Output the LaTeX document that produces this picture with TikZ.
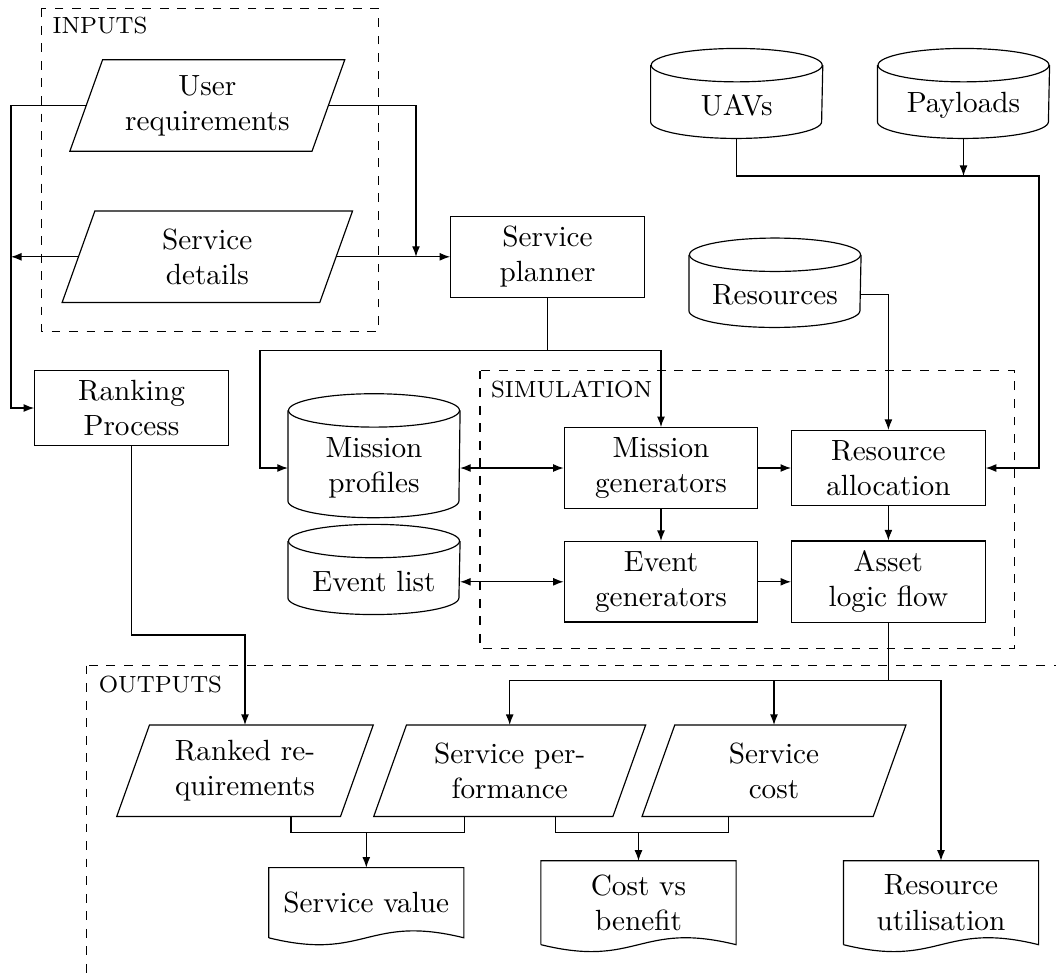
\documentclass[tikz,border=0pt]{standalone}
\usetikzlibrary{arrows.meta,calc}

% cylinder outline around a database node: #1 node name, #2 total height
\newcommand{\dbdraw}[2]{%
  \draw ($(#1.south)+(0,#2-16.7)$) ellipse [x radius=29.24pt, y radius=5.71pt];
  \draw ($(#1.south west)+(0,#2-16.7)$) -- ($(#1.south west)+(0,16.7)$)
    arc [start angle=180, end angle=360, x radius=29.24pt, y radius=5.71pt]
    -- ($(#1.south east)+(0,#2-16.7)$);
}
% document outline with a wavy lower edge
\newcommand{\docdraw}[1]{%
  \draw (#1.south west) -- (#1.north west) -- (#1.north east) -- (#1.south east)
    .. controls +(-97,24) and +(97,-24) .. (#1.south west);
}

\begin{document}
\begin{tikzpicture}[x=0.342pt, y=0.342pt,
  box/.style={draw, text width=59.5pt, align=center, inner sep=3.333pt},
  para/.style={align=center, inner sep=1pt, minimum height=30.9pt},
  db/.style={align=center, inner sep=1pt, minimum width=58.48pt},
  doc/.style={align=center, inner sep=1pt, minimum width=66.35pt},
  frame/.style={draw, dashed},
  flabel/.style={font=\footnotesize, anchor=base west, inner sep=0pt},
  arr/.style={-{Latex[length=3.6pt,width=2.7pt]}},
  dbl/.style={{Latex[length=3.6pt,width=2.7pt]}-{Latex[length=3.6pt,width=2.7pt]}},
]
\useasboundingbox (0,0) rectangle (1056,-973);
\clip (0,0) rectangle (1056,-973);

% group frames
\draw[frame] (41.7,-8.3) rectangle (378.3,-331.7);
\node[flabel] (linputs) at (52,-33.3) {INPUTS};
\draw[frame] (480,-370.7) rectangle (1014.5,-648.3);
\node[flabel] (lsim) at (490.5,-397) {SIMULATION};
\draw[frame] (86.7,-665.7) rectangle (1090,-1010);
\node[flabel] (loutputs) at (98.3,-692.7) {OUTPUTS};

% inputs
\node[para, minimum width=82.42pt] (ur) at (207.3,-105.5) {User\\requirements};
\node[para, minimum width=87.72pt] (sd) at (207.3,-256.8) {Service\\details};

% processes
\node[box] (sp) at (547.5,-256.8) {Service\\planner};
\node[box] (rp) at (131.5,-408) {Ranking\\Process};
\node[box] (mg) at (661,-468) {Mission\\generators};
\node[box] (ra) at (888.4,-468) {Resource\\allocation};
\node[box] (eg) at (661,-581.8) {Event\\generators};
\node[box] (alf) at (888.4,-581.8) {Asset\\logic flow};

% databases
\node[db, minimum height=22pt] (uav) at (736.7,-105.7) {UAVs};
\node[db, minimum height=22pt] (pay) at (963.5,-105.7) {Payloads};
\node[db, minimum height=22pt] (res) at (775,-294.7) {Resources};
\node[db, minimum height=33.6pt] (mp) at (374,-468) {Mission\\profiles};
\node[db, minimum height=22pt] (el) at (374,-581.8) {Event list};
\dbdraw{uav}{90}
\dbdraw{pay}{90}
\dbdraw{res}{89.4}
\dbdraw{mp}{124}
\dbdraw{el}{90.2}

% outputs
\node[para, minimum width=76.13pt] (rr) at (245,-770.7) {Ranked re-\\quirements};
\node[para, minimum width=81.4pt] (spf) at (509.7,-770.7) {Service per-\\formance};
\node[para, minimum width=78.66pt] (sc) at (774,-770.7) {Service\\cost};
\foreach \n in {ur,sd,rr,spf,sc}
  \draw ([xshift=-5.6pt]\n.south west) -- ([xshift=5.6pt]\n.north west)
     -- ([xshift=5.6pt]\n.north east) -- ([xshift=-5.6pt]\n.south east) -- cycle;

\node[doc, minimum height=23.6pt] (sv) at (366.3,-902.7) {Service value};
\node[doc, minimum height=28.3pt] (cvb) at (638.5,-902.7) {Cost vs\\benefit};
\node[doc, minimum height=28.3pt] (ru) at (941,-902.7) {Resource\\utilisation};
\docdraw{sv}
\docdraw{cvb}
\docdraw{ru}

% input connectors
\coordinate (lft) at (11,-256.8);
\coordinate (jn) at (416,-256.8);
\draw[arr] (ur.west) -| (lft) |- (rp.west);
\draw[arr] (sd.west) -- (lft);
\draw[arr] (ur.east) -| (jn);
\draw[arr] (sd.east) -- (sp.west);

% planner to simulation
\coordinate (spj) at (547.5,-350.7);
\draw (sp.south) -- (spj);
\draw[arr] (spj) -| ($(mp.west)+(-28,0)$) -- (mp.west);
\draw[arr] (spj) -| (mg.north);

% resource databases
\coordinate (ubus) at (1039,-176);
\draw[arr] (uav.south) |- (ubus) |- (ra.east);
\draw[arr] (pay.south) -- (pay.south |- ubus);
\draw[arr] (res.east) -| (ra.north);

% simulation internals
\draw[dbl] (mp.east) -- (mg.west);
\draw[dbl] (el.east) -- (eg.west);
\draw[arr] (mg.east) -- (ra.west);
\draw[arr] (eg.east) -- (alf.west);
\draw[arr] (mg.south) -- (eg.north);
\draw[arr] (ra.south) -- (alf.north);

% results
\coordinate (oj) at (888.4,-680.7);
\draw (alf.south) -- (oj);
\draw[arr] (oj) -| (spf.north);
\draw[arr] (oj) -| (sc.north);
\draw[arr] (oj) -| (ru.north);
\draw[arr] (rp.south) |- ($(rr.north)+(0,90)$) -- (rr.north);

\coordinate (vj) at (366.3,-832.3);
\draw ($(rr.south)+(46,0)$) |- (vj) -| ($(spf.south)+(-45.5,0)$);
\draw[arr] (vj) -- (sv.north);
\coordinate (cj) at (638.5,-832.3);
\draw ($(spf.south)+(46,0)$) |- (cj) -| ($(sc.south)+(-45.5,0)$);
\draw[arr] (cj) -- (cvb.north);
\end{tikzpicture}
\end{document}
